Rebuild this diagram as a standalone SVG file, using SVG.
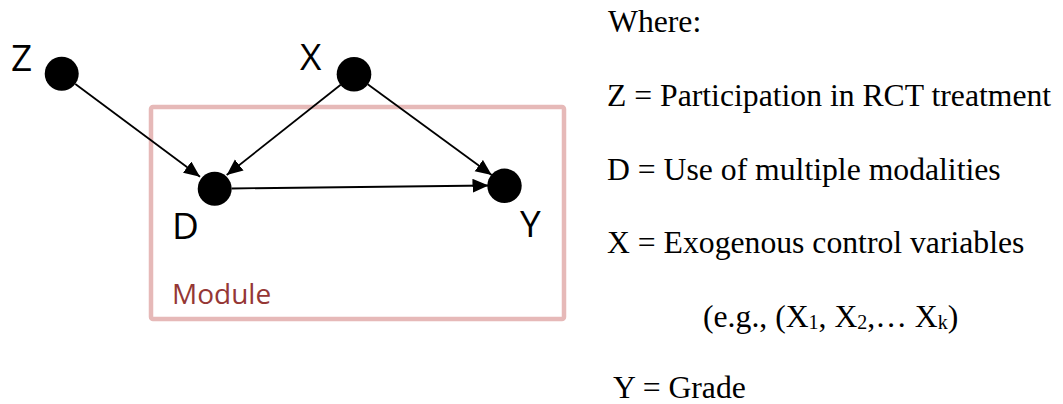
<svg xmlns="http://www.w3.org/2000/svg" width="1063" height="404" viewBox="0 0 1063 404">
<style>
.node{fill:#000}
.lbl{font-family:"Open Sans","Liberation Sans",sans-serif;font-size:37px;fill:#000}
.mod{font-family:"Open Sans","Liberation Sans",sans-serif;font-size:28px;fill:#953735}
.edge{stroke:#000;stroke-width:1.8;fill:none;marker-end:url(#arr)}
.txt{font-family:"Liberation Serif","Times New Roman",serif;font-size:31.7px;fill:#000}
.sub{font-size:20px}
</style>
<defs>
<marker id="arr" markerUnits="userSpaceOnUse" markerWidth="17" markerHeight="15" refX="16" refY="7" orient="auto">
<path d="M0,0 L16,7 L0,14 z" fill="#000"/>
</marker>
</defs>
<rect id="module" x="151" y="107" width="413" height="212" rx="2" fill="none" stroke="#e6b9b8" stroke-width="4.5"/>
<text class="mod" x="172" y="304">Module</text>
<g id="connectors">
<line class="edge" x1="75.3" y1="84" x2="200" y2="176.7"/>
<line class="edge" x1="340.7" y1="84.8" x2="226.7" y2="175"/>
<line class="edge" x1="367.7" y1="84.2" x2="491.7" y2="175"/>
<line class="edge" x1="231.7" y1="188.5" x2="488.5" y2="185.5"/>
</g>
<g id="node-Z"><circle class="node" cx="61.7" cy="73.8" r="17"/><text class="lbl" x="11" y="71">Z</text></g>
<g id="node-X"><circle class="node" cx="354" cy="74.2" r="17.3"/><text class="lbl" x="300" y="70">X</text></g>
<g id="node-D"><circle class="node" cx="214.7" cy="188.7" r="17"/><text class="lbl" x="172" y="239">D</text></g>
<g id="node-Y"><circle class="node" cx="504.5" cy="185.8" r="17.2"/><text class="lbl" x="520" y="237">Y</text></g>
<g id="legend">
<text class="txt" x="608" y="32">Where:</text>
<text class="txt" x="607" y="106">Z = Participation in RCT treatment</text>
<text class="txt" x="607" y="180">D = Use of multiple modalities</text>
<text class="txt" x="607" y="253">X = Exogenous control variables</text>
<text class="txt" x="703" y="327">(e.g., (X<tspan class="sub" dy="2">1</tspan><tspan dy="-2">, X</tspan><tspan class="sub" dy="2">2</tspan><tspan dy="-2">,… X</tspan><tspan class="sub" dy="2">k</tspan><tspan dy="-2">)</tspan></text>
<text class="txt" x="613" y="398">Y = Grade</text>
</g>
</svg>
